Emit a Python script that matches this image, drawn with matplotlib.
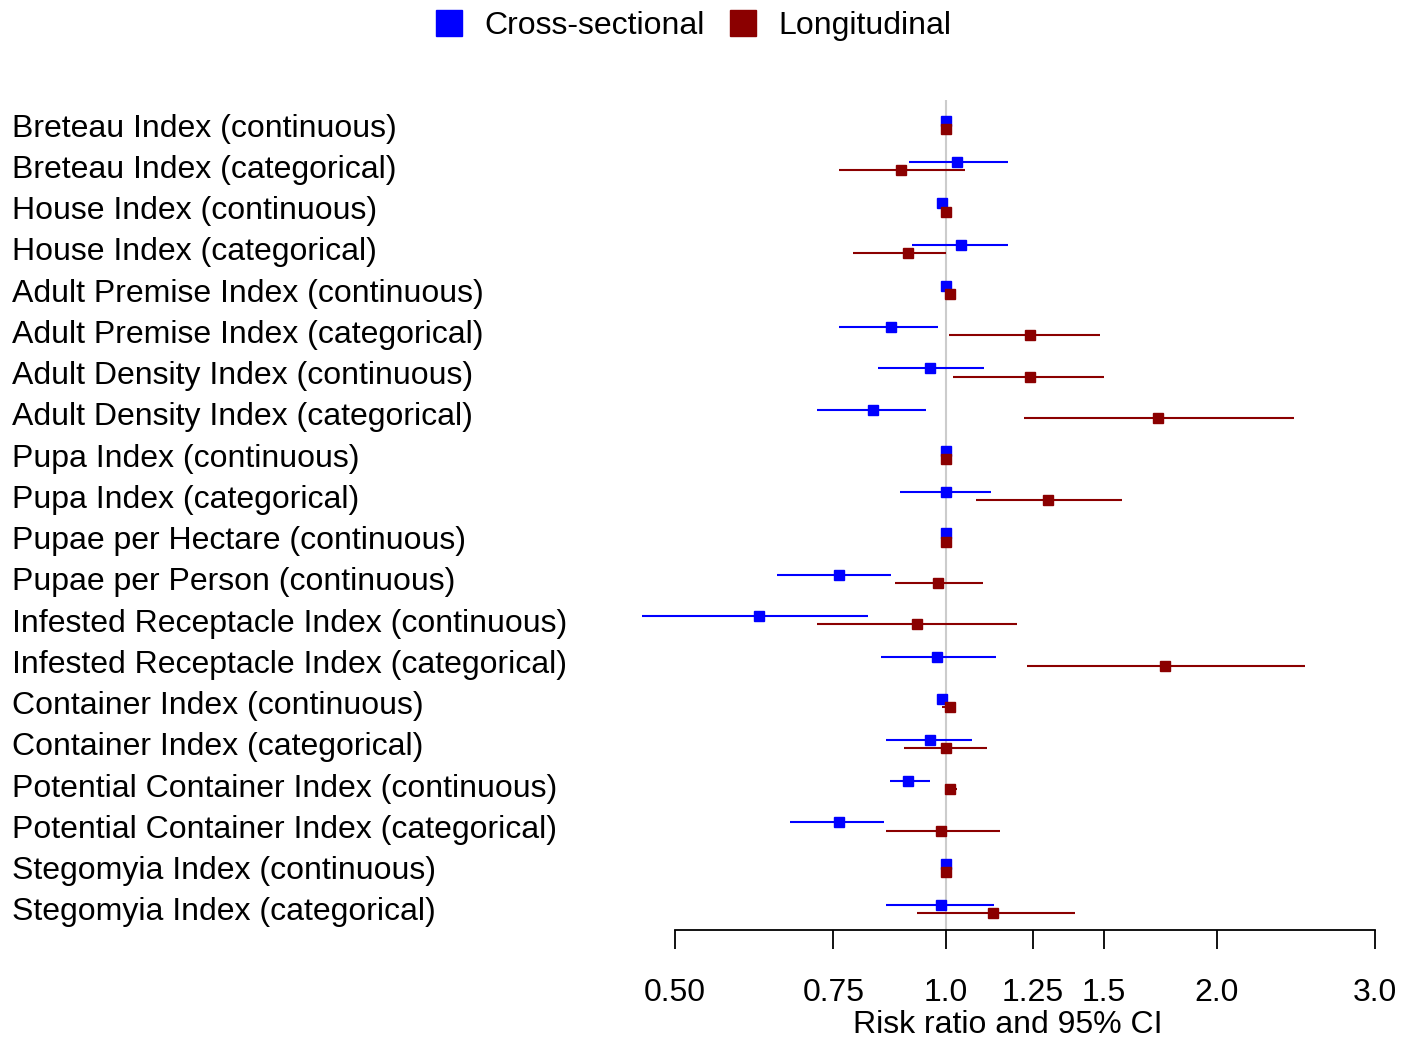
import numpy as np
import matplotlib
matplotlib.use("Agg")
import matplotlib.pyplot as plt
import matplotlib.transforms as mtransforms
from matplotlib.lines import Line2D

plt.rcParams['font.family'] = ['Liberation Sans', 'DejaVu Sans']

labels = [
    "Breteau Index (continuous)",
    "Breteau Index (categorical)",
    "House Index (continuous)",
    "House Index (categorical)",
    "Adult Premise Index (continuous)",
    "Adult Premise Index (categorical)",
    "Adult Density Index (continuous)",
    "Adult Density Index (categorical)",
    "Pupa Index (continuous)",
    "Pupa Index (categorical)",
    "Pupae per Hectare (continuous)",
    "Pupae per Person (continuous)",
    "Infested Receptacle Index (continuous)",
    "Infested Receptacle Index (categorical)",
    "Container Index (continuous)",
    "Container Index (categorical)",
    "Potential Container Index (continuous)",
    "Potential Container Index (categorical)",
    "Stegomyia Index (continuous)",
    "Stegomyia Index (categorical)",
]

# cross-sectional estimates
cs_rr = [1.00, 1.030, 0.990, 1.040, 1.000, 0.869, 0.961, 0.830, 1.000, 1.000,
         1.000, 0.760, 0.620, 0.978, 0.990, 0.961, 0.908, 0.760, 1.000, 0.989]
cs_lo = [1.00, 0.909, 0.988, 0.918, 0.998, 0.760, 0.841, 0.719, 1.000, 0.890,
         1.000, 0.650, 0.4595, 0.848, 0.988, 0.859, 0.868, 0.671, 1.000, 0.859]
cs_hi = [1.00, 1.172, 0.992, 1.172, 1.002, 0.981, 1.102, 0.951, 1.000, 1.122,
         1.000, 0.869, 0.820, 1.138, 0.992, 1.070, 0.961, 0.853, 1.000, 1.131]

# longitudinal estimates
lg_rr = [1.00, 0.891, 1.000, 0.908, 1.010, 1.241, 1.241, 1.720, 1.000, 1.299,
         1.000, 0.979, 0.928, 1.751, 1.010, 1.000, 1.010, 0.989, 1.000, 1.128]
lg_lo = [1.00, 0.760, 0.998, 0.789, 1.005, 1.009, 1.019, 1.222, 1.000, 1.080,
         1.000, 0.878, 0.719, 1.231, 0.990, 0.899, 1.000, 0.859, 1.000, 0.928]
lg_hi = [1.00, 1.051, 1.002, 1.000, 1.015, 1.484, 1.501, 2.437, 1.000, 1.571,
         1.000, 1.101, 1.201, 2.506, 1.025, 1.110, 1.030, 1.150, 1.000, 1.392]

tick_vals = [0.5, 0.75, 1.0, 1.25, 1.5, 2.0, 3.0]
tick_labels = ["0.50", "0.75", "1.0", "1.25", "1.5", "2.0", "3.0"]

blue = "#0000FF"
red = "#8B0000"
fs = 23

fig = plt.figure(figsize=(14.12, 10.42), dpi=100)
ax = fig.add_axes([675/1412, (1042-930)/1042, 700/1412, 830/1042])

rows = np.arange(1, len(labels) + 1)
off = 0.1

ax.axvline(1.0, color="#cccccc", lw=1.5, zorder=0)

ax.hlines(rows - off, cs_lo, cs_hi, color=blue, lw=1.5, clip_on=False)
ax.plot(cs_rr, rows - off, 's', color=blue, ms=6.5, clip_on=False)
ax.hlines(rows + off, lg_lo, lg_hi, color=red, lw=1.5, clip_on=False)
ax.plot(lg_rr, rows + off, 's', color=red, ms=6.5, clip_on=False)

ax.set_xscale('log')
ax.set_xlim(0.5, 3.0)
ax.set_ylim(20.51, 0.394)
ax.set_xticks(tick_vals)
ax.set_xticklabels(tick_labels, fontsize=fs)
ax.xaxis.set_minor_locator(matplotlib.ticker.NullLocator())
ax.tick_params(axis='x', direction='out', length=13.5, width=1.3, pad=21)
ax.set_yticks([])
for s in ['top', 'right', 'left']:
    ax.spines[s].set_visible(False)
ax.spines['bottom'].set_linewidth(1.3)

ax.set_xlabel("Risk ratio and 95% CI", fontsize=fs, va='center')
ax.xaxis.set_label_coords((1008-675)/700, (930-1025)/830)

trans = mtransforms.blended_transform_factory(fig.transFigure, ax.transData)
trans = mtransforms.offset_copy(trans, fig=fig, y=-3.5, units='dots')
for r, lab in zip(rows, labels):
    ax.text(12/1412, r, lab, transform=trans, ha='left', va='center', fontsize=fs)

handles = [Line2D([], [], marker='s', ls='none', color=blue, ms=18.5),
           Line2D([], [], marker='s', ls='none', color=red, ms=18.5)]
fig.legend(handles, ["Cross-sectional", "Longitudinal"], loc='center',
           bbox_to_anchor=(692/1412, 1 - 26/1042), ncol=2, frameon=False,
           fontsize=fs, handlelength=1.0, handletextpad=0.6, columnspacing=0.7)

fig.savefig("out.png", dpi=100)
